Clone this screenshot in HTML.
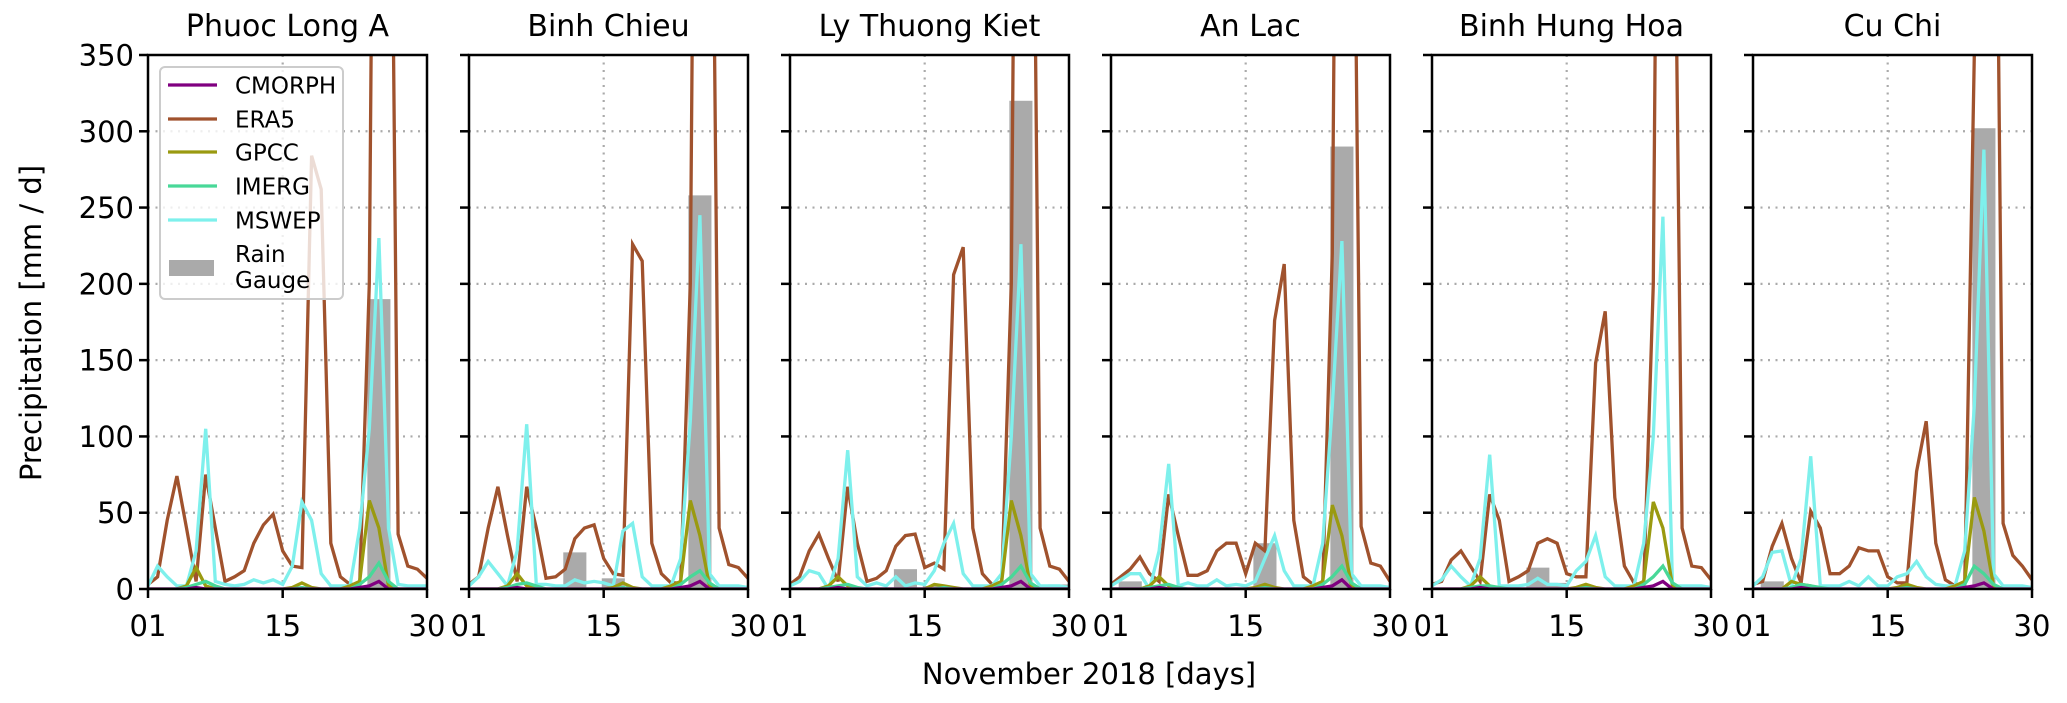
<!DOCTYPE html>
<html><head><meta charset="utf-8">
<style>
html,body{margin:0;padding:0;background:#fff;}
svg{display:block;font-family:"DejaVu Sans","Liberation Sans",sans-serif;}
</style></head>
<body>
<svg id="chart" width="2067" height="703" viewBox="0 0 2067 703" xmlns="http://www.w3.org/2000/svg"></svg>
<script>
const stations = ["Phuoc Long A","Binh Chieu","Ly Thuong Kiet","An Lac","Binh Hung Hoa","Cu Chi"];
const yTicks = [0,50,100,150,200,250,300,350];
const xTicks = [1,15,30];
const xTickLabels = ["01","15","30"];
const seriesNames = ["CMORPH","ERA5","GPCC","IMERG","MSWEP"];
const seriesColors = ["#800080","#a0522d","#9a9a10","#48d898","#7ef0ec"];
// ERA5 per station (days 1..30)
const era5 = [
 [3,8,45,74,40,5,75,40,5,8,12,30,42,49,25,15,14,284,262,30,8,3,3,200,1000,700,36,15,13,7],
 [3,8,40,67,35,5,67,40,7,8,13,33,40,42,20,10,9,226,215,30,10,4,4,200,1000,700,40,16,14,7],
 [3,8,25,36,20,5,67,30,5,7,12,28,35,36,14,17,13,206,224,40,10,3,3,200,1000,700,40,15,13,5],
 [3,8,13,21,10,5,62,35,9,9,12,25,30,30,10,30,25,176,213,45,8,3,3,220,1000,650,41,17,15,5],
 [3,5,19,25,15,5,62,45,5,8,12,30,33,30,10,8,8,148,182,60,15,4,2,200,1000,600,40,15,14,6],
 [3,5,28,43,20,4,51,40,10,10,15,27,25,25,8,4,4,77,110,30,6,2,2,350,1000,700,43,22,15,6]
];
const mswep = [
 [2,15,8,2,2,25,105,5,3,2,3,6,4,6,3,15,57,45,10,2,2,2,40,105,230,40,3,2,2,2],
 [2,8,18,10,2,25,108,3,3,2,2,6,4,5,4,2,38,43,8,2,2,2,20,110,245,10,2,2,2,1],
 [2,5,12,10,0,20,91,8,2,4,2,8,2,4,3,12,30,43,10,2,2,2,10,100,226,10,2,2,2,1],
 [2,6,10,10,0,25,82,2,4,2,2,6,2,3,2,5,20,35,12,2,2,2,30,120,228,10,2,2,2,1],
 [2,6,15,8,2,20,88,2,2,2,3,7,3,3,2,12,18,35,8,2,2,2,30,100,244,2,2,2,2,1],
 [2,8,24,25,2,20,87,2,2,2,5,2,8,2,2,8,10,18,8,3,2,2,25,120,288,10,2,2,2,1]
];
const gpcc = [
 [0,0,0,0,2,14,2,0,0,0,0,0,0,0,0,1,4,1,0,0,0,2,5,58,40,2,0,0,0,0],
 [0,0,0,0,2,10,2,0,0,0,0,0,0,0,0,1,4,1,0,0,0,2,5,58,35,2,0,0,0,0],
 [0,0,0,0,2,8,2,0,0,0,0,0,0,0,0,3,2,1,0,0,0,2,5,58,35,2,0,0,0,0],
 [0,0,0,0,2,8,2,0,0,0,0,0,0,0,0,1,3,1,0,0,0,2,5,55,35,2,0,0,0,0],
 [0,0,0,0,2,8,2,0,0,0,0,0,0,0,0,1,3,1,0,0,0,2,5,57,40,2,0,0,0,0],
 [0,0,0,0,5,3,2,0,0,0,0,0,0,0,0,1,3,1,0,0,0,2,5,60,38,2,0,0,0,0]
];
const imerg = [
 [0,0,0,0,1,3,5,2,0,0,0,0,0,0,0,0,1,0,0,0,0,0,3,8,17,5,0,0,0,0],
 [0,0,0,0,1,3,4,2,0,0,0,0,0,0,0,0,1,0,0,0,0,0,3,8,12,4,0,0,0,0],
 [0,0,0,0,1,2,3,1,0,0,0,0,0,0,0,0,1,0,0,0,0,0,3,8,15,4,0,0,0,0],
 [0,0,0,0,1,2,3,1,0,0,0,0,0,0,0,0,1,0,0,0,0,0,3,8,15,4,0,0,0,0],
 [0,0,0,0,1,2,2,1,0,0,0,0,0,0,0,0,1,0,0,0,0,0,3,8,15,4,0,0,0,0],
 [0,0,0,0,1,3,2,1,0,0,0,0,0,0,0,0,1,0,0,0,0,0,3,15,10,3,0,0,0,0]
];
const cmorph = [
 [0,0,0,0,0,1,0,0,0,0,0,0,0,0,0,0,0,0,0,0,0,0,1,2,5,0,0,0,0,0],
 [0,0,0,0,0,1,0,0,0,0,0,0,0,0,0,0,0,0,0,0,0,0,1,2,5,0,0,0,0,0],
 [0,0,0,0,0,1,0,0,0,0,0,0,0,0,0,0,0,0,0,0,0,0,1,2,5,0,0,0,0,0],
 [0,0,0,0,0,1,0,0,0,0,0,0,0,0,0,0,0,0,0,0,0,0,1,2,6,0,0,0,0,0],
 [0,0,0,0,0,1,0,0,0,0,0,0,0,0,0,0,0,0,0,0,0,0,1,2,5,0,0,0,0,0],
 [0,0,0,0,0,1,0,0,0,0,0,0,0,0,0,0,0,0,0,0,0,0,1,2,4,0,0,0,0,0]
];
// rain gauge bars: [day, value]
const gaugeDays = [[25],[12,16,25],[13,16,25,29],[3,17,25],[12,14],[3,25]];
const gaugeVals = [[190],[24,7,258],[13,2,320,3],[5,30,290],[14,4],[5,302]];

const NS="http://www.w3.org/2000/svg";
const svg=document.getElementById('chart');
const P0=148, PW=279, PSTEP=321, TOP=55, BOT=589, YMAX=350;
function xs(p,d){return P0+p*PSTEP+(d-1)*PW/29;}
function ys(v){return BOT-(v/YMAX)*(BOT-TOP);}
function mk(tag,attrs,parent){const e=document.createElementNS(NS,tag);for(const k in attrs)e.setAttribute(k,attrs[k]);(parent||svg).appendChild(e);return e;}

const defs=mk('defs',{});
const allSeries=[cmorph,era5,gpcc,imerg,mswep];
const drawOrder=[1,4,2,3,0];

stations.forEach((name,p)=>{
  const L=P0+p*PSTEP;
  const cp=mk('clipPath',{id:'clip'+p},defs);
  mk('rect',{x:L,y:TOP,width:PW,height:BOT-TOP},cp);
  const g=mk('g',{});
  
  
  yTicks.forEach(v=>{if(v>0&&v<YMAX){const l=mk('line',{x1:L,x2:L+PW,y1:ys(v),y2:ys(v),stroke:'#aaaaaa','stroke-width':2.2,'stroke-dasharray':'2 5.5'},g);
    
    }});
  const gx=mk('line',{x1:xs(p,15),x2:xs(p,15),y1:TOP,y2:BOT,stroke:'#aaaaaa','stroke-width':2.2,'stroke-dasharray':'2 5.5'},g);
  
  
  const inner=mk('g',{'clip-path':'url(#clip'+p+')'},g);
  gaugeDays[p].forEach((d,i)=>{
    const v=gaugeVals[p][i];
    const r=mk('rect',{x:xs(p,d-1.2),y:ys(v),width:xs(p,d+1.2)-xs(p,d-1.2),height:BOT-ys(v),fill:'#aaaaaa'},inner);
    
    
  });
  drawOrder.forEach(si=>{
    const vals=allSeries[si][p];
    const pts=vals.map((v,i)=>xs(p,i+1).toFixed(1)+','+ys(v).toFixed(1)).join(' ');
    const pl=mk('polyline',{points:pts,fill:'none',stroke:seriesColors[si],'stroke-width':3.3,'stroke-linejoin':'miter'},inner);
    
    
  });
  const fr=mk('rect',{x:L,y:TOP,width:PW,height:BOT-TOP,fill:'none',stroke:'#000','stroke-width':2.5},g);
  
  
  yTicks.forEach((v,i)=>{
    const t=mk('line',{x1:L-9,x2:L,y1:ys(v),y2:ys(v),stroke:'#000','stroke-width':2.5},g);
    
    
    if(p===0){const tx=mk('text',{x:L-14,y:ys(v)+10.5,'font-size':29,'text-anchor':'end',fill:'#000'},g);tx.textContent=String(v);
      
      }
  });
  xTicks.forEach((d,i)=>{
    const t=mk('line',{x1:xs(p,d),x2:xs(p,d),y1:BOT,y2:BOT+9,stroke:'#000','stroke-width':2.5},g);
    
    
    const tx=mk('text',{x:xs(p,d),y:636,'font-size':29,'text-anchor':'middle',fill:'#000'},g);
    tx.textContent=xTickLabels[i];
    
    
  });
  const tt=mk('text',{x:L+PW/2,y:36,'font-size':30,'text-anchor':'middle',fill:'#000'},g);
  tt.textContent=name;
  
  
});

const yl=mk('text',{x:0,y:0,'font-size':29,'text-anchor':'middle',fill:'#000',transform:'translate(41,323) rotate(-90)'});
yl.textContent='Precipitation [mm / d]';


const xl=mk('text',{x:1089,y:684,'font-size':29,'text-anchor':'middle',fill:'#000'});
xl.textContent='November 2018 [days]';



const lg=mk('g',{});


mk('rect',{x:160,y:67,width:183,height:232,rx:5,fill:'#fff','fill-opacity':0.8,stroke:'#cccccc','stroke-width':2},lg);
const rowsY=[85,119,152,186,220];
seriesNames.forEach((n,i)=>{
  const e=mk('g',{},lg);
  
  
  mk('line',{x1:168,x2:217,y1:rowsY[i],y2:rowsY[i],stroke:seriesColors[i],'stroke-width':3.2},e);
  const t=mk('text',{x:235,y:rowsY[i]+8.5,'font-size':23,fill:'#000'},e);
  t.textContent=n;
});
const ge=mk('g',{},lg);


mk('rect',{x:169,y:260,width:45,height:16,fill:'#aaaaaa'},ge);
const t1=mk('text',{x:235,y:262,'font-size':23,fill:'#000'},ge);t1.textContent='Rain';
const t2=mk('text',{x:235,y:288,'font-size':23,fill:'#000'},ge);t2.textContent='Gauge';
</script>
</body></html>
